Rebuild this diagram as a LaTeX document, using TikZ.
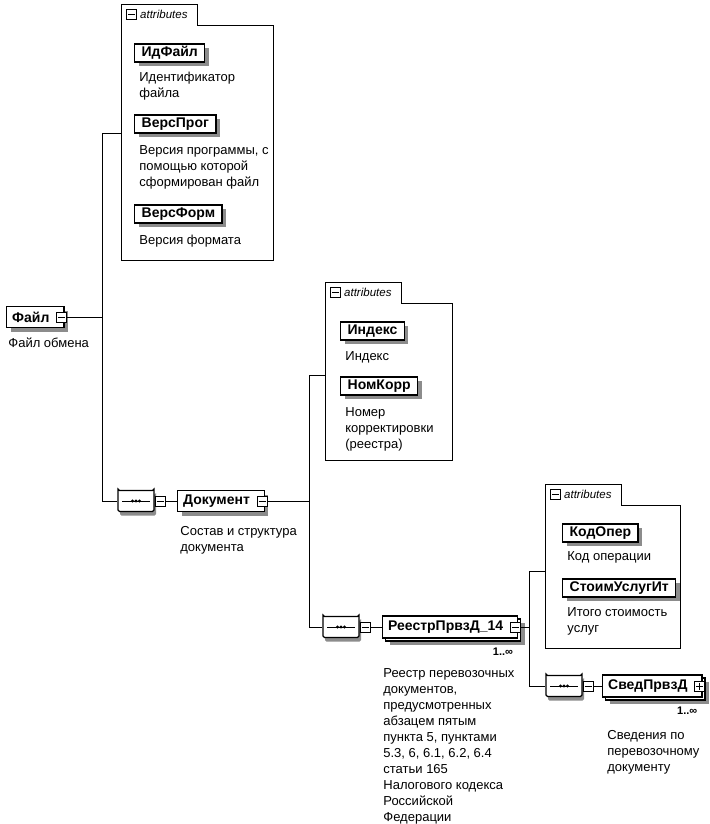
\documentclass[tikz,border=0pt]{standalone}
\usepackage{fontspec}
\setmainfont{Liberation Sans}
\usetikzlibrary{positioning, shapes.misc, shadows}

\begin{document}
\begin{tikzpicture}[
    x=1pt, y=1pt,
    line width=0.8pt,
    elembase/.style={rectangle, draw, line width=1.3pt, fill=white, anchor=west,
        font=\fontsize{14}{16}\selectfont\bfseries, inner xsep=5.5pt, inner ysep=0pt},
    elem/.style={elembase, minimum height=18pt, inner xsep=7pt,
        drop shadow={shadow xshift=4pt, shadow yshift=-4pt, fill=black!45, opacity=1}},
    tree/.style={elem, minimum height=21pt, inner xsep=5.5pt,
        execute at end node={\hspace{9pt}}},
    multi/.style={elembase, minimum height=22pt, execute at end node={\hspace{9pt}},
        drop shadow={shadow xshift=7pt, shadow yshift=-7pt, fill=black!45, opacity=1},
        copy shadow={shadow xshift=3pt, shadow yshift=-3pt}},
    desc/.style={anchor=north west, align=left, inner sep=0pt,
        font=\fontsize{13}{16}\selectfont},
    seq/.style={chamfered rectangle, chamfered rectangle xsep=5pt, rounded corners=1.5pt,
        draw, line width=1.2pt, fill=white, minimum width=36pt, minimum height=21pt,
        inner sep=0pt,
        drop shadow={shadow xshift=2pt, shadow yshift=-4pt, fill=black!45, opacity=1}},
    minus/.style={rectangle, draw, fill=white, line width=0.8pt, minimum size=10pt,
        inner sep=0pt, path picture={
        \draw[line width=0.8pt] ([xshift=1.5pt]path picture bounding box.west)
            -- ([xshift=-1.5pt]path picture bounding box.east);}},
    plus/.style={minus, path picture={
        \draw[line width=0.8pt] ([xshift=1.5pt]path picture bounding box.west)
            -- ([xshift=-1.5pt]path picture bounding box.east);
        \draw[line width=0.8pt] ([yshift=-1.5pt]path picture bounding box.north)
            -- ([yshift=1.5pt]path picture bounding box.south);}},
    occ/.style={font=\fontsize{11}{12}\selectfont\bfseries, inner sep=0pt},
    tabtext/.style={font=\fontsize{11.5}{12}\selectfont\itshape, inner sep=0pt}]

    \useasboundingbox (0,0) rectangle (709,-824);

    % attribute boxes
    \foreach \n/\x/\y/\w/\h in {A/121/25/152/235, B/325/303/127/157, C/545/505/135/143} {
        \node[minimum width=\w pt, minimum height=\h pt, anchor=north west, inner sep=0pt]
            (attr\n) at (\x,-\y) {};
        \node[minimum width=76pt, minimum height=20pt, anchor=south west, inner sep=0pt]
            (tab\n) at (attr\n.north west) {};
        \draw (attr\n.south west) |- (tab\n.north east) |- (attr\n.north east)
            |- (attr\n.south west);
        \node[minus, right=5pt of tab\n.west] (tabm\n) {};
        \node[tabtext, right=3pt of tabm\n] {attributes};
    }

    % attributes of Файл
    \node[elem] (idfile) at (134,-53) {ИдФайл};
    \node[desc, below right=9pt and 5pt of idfile.south west] (idfiled) {Идентификатор\\файла};
    \node[elem] (versprog) at (134,-124) {ВерсПрог};
    \node[desc, below right=12pt and 5pt of versprog.south west] (versprogd)
        {Версия программы, с\\помощью которой\\сформирован файл};
    \node[elem] (versform) at (134,-214) {ВерсФорм};
    \node[desc, below right=11pt and 5pt of versform.south west] (versformd) {Версия формата};

    % attributes of Документ
    \node[elem] (index) at (340,-331) {Индекс};
    \node[desc, below right=11pt and 5pt of index.south west] (indexd) {Индекс};
    \node[elem] (nomkorr) at (340,-386) {НомКорр};
    \node[desc, below right=12pt and 5pt of nomkorr.south west] (nomkorrd)
        {Номер\\корректировки\\(реестра)};

    % attributes of РеестрПрвзД_14
    \node[elem] (kodoper) at (562,-533) {КодОпер};
    \node[desc, below right=9pt and 5pt of kodoper.south west] (kodoperd) {Код операции};
    \node[elem] (stoim) at (562,-588) {СтоимУслугИт};
    \node[desc, below right=9pt and 5pt of stoim.south west] (stoimd) {Итого стоимость\\услуг};

    % tree
    \node[tree] (file) at (6,-317) {Файл};
    \node[minus] (fileM) at ([xshift=-3pt]file.east) {};
    \node[desc, below right=9pt and 2pt of file.south west] (filed) {Файл обмена};

    \node[seq] (seqA) at (136,-501) {};
    \node[minus, right=0pt of seqA] (seqAM) {};
    \node[tree] (doc) at (177,-501) {Документ};
    \node[minus] (docM) at ([xshift=-3pt]doc.east) {};
    \node[desc, below right=14pt and 3pt of doc.south west] (docd) {Состав и структура\\документа};

    \node[seq] (seqB) at (341,-627) {};
    \node[minus, right=0pt of seqB] (seqBM) {};
    \node[multi] (reestr) at (382,-627) {РеестрПрвзД\_14};
    \node[minus] (reestrM) at ([xshift=-3pt]reestr.east) {};
    \node[occ, below left=9pt and 5pt of reestr.south east] (reestro) {1..∞};
    \node[desc, below right=29pt and 1pt of reestr.south west] (reestrd)
        {Реестр перевозочных\\документов,\\предусмотренных\\абзацем пятым\\пункта 5, пунктами\\5.3, 6, 6.1, 6.2, 6.4\\статьи 165\\Налогового кодекса\\Российской\\Федерации};

    \node[seq] (seqC) at (564,-686) {};
    \node[minus, right=0pt of seqC] (seqCM) {};
    \node[multi] (sved) at (602,-686) {СведПрвзД};
    \node[plus] (svedP) at ([xshift=-3pt]sved.east) {};
    \node[occ, below left=9pt and 5pt of sved.south east] (svedo) {1..∞};
    \node[desc, below right=32pt and 5pt of sved.south west] (svedd)
        {Сведения по\\перевозочному\\документу};

    \foreach \s in {seqA, seqB, seqC} {
        \draw[line width=0.8pt] ([xshift=5pt]\s.west) -- ([xshift=-5pt]\s.east);
        \foreach \d in {-3.5, 0, 3.5}
            \fill ([xshift=\d pt]\s.center) circle (1.6pt);
    }

    % connectors
    \coordinate (busA) at (102,0);
    \coordinate (busB) at (309,0);
    \coordinate (busC) at (529,0);
    \draw (fileM.east) -- (fileM.east -| busA);
    \draw ([yshift=9pt]attrA.west) -| (busA |- seqA.west) -- (seqA.west);
    \draw (seqAM.east) -- (doc.west);
    \draw (docM.east) -- (docM.east -| busB);
    \draw ([yshift=7pt]attrB.west) -| (busB |- seqB.west) -- (seqB.west);
    \draw (seqBM.east) -- (reestr.west);
    \draw (reestrM.east) -- (reestrM.east -| busC);
    \draw ([yshift=6pt]attrC.west) -| (busC |- seqC.west) -- (seqC.west);
    \draw (seqCM.east) -- (sved.west);

\end{tikzpicture}
\end{document}
